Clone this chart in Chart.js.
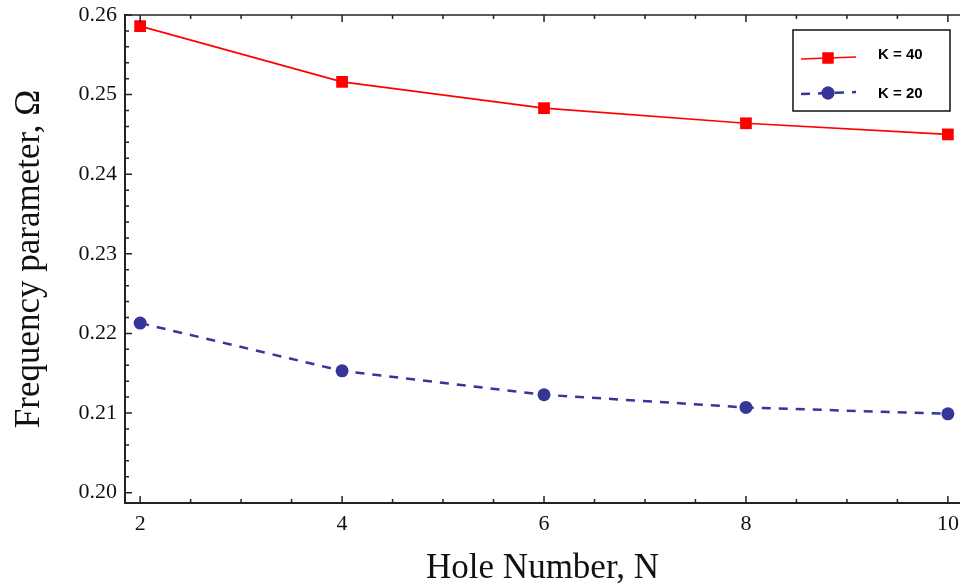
<!DOCTYPE html>
<html>
<head>
<meta charset="utf-8">
<script src="https://cdn.jsdelivr.net/npm/chart.js@4.4.1/dist/chart.umd.min.js"></script>
<style>
  html,body{margin:0;padding:0;background:#fff}
  #wrap{width:960px;height:587px;position:relative;overflow:hidden}
</style>
</head>
<body>
<div id="wrap"><canvas id="chart" width="960" height="587"></canvas></div>
<script>
// values (frequency parameter vs hole number)
const holeNumbers = [2, 4, 6, 8, 10];
const omegaK40 = [0.2586, 0.2516, 0.2483, 0.2464, 0.2450];
const omegaK20 = [0.2213, 0.2153, 0.2123, 0.2107, 0.2099];
const seriesLabels = ["K = 40", "K = 20"];
const xTicks = [2, 4, 6, 8, 10];
const yTicks = [0.20, 0.21, 0.22, 0.23, 0.24, 0.25, 0.26];
const xMinorStep = 0.5, yMinorStep = 0.002;

const SERIF = '"Liberation Serif", "Times New Roman", serif';
const RED = "#ff0000", BLUE = "#35359a";

function pts(ys){ return holeNumbers.map((x,i)=>({ x, y: ys[i] })); }

// inward tick marks on left/bottom/top, like the original frame
const frameTicks = {
  id: "frameTicks",
  afterDraw(chart){
    const { ctx, chartArea: a, scales: { x, y } } = chart;
    ctx.save();
    ctx.strokeStyle = "#222";
    ctx.lineWidth = 1.5;
    // top frame line
    ctx.beginPath(); ctx.moveTo(a.left, a.top); ctx.lineTo(a.right, a.top); ctx.stroke();
    ctx.beginPath();
    for(let v = 2; v <= x.max + 1e-9; v += xMinorStep){
      const px = x.getPixelForValue(v);
      const len = xTicks.includes(Math.round(v*100)/100) ? 7 : 4;
      ctx.moveTo(px, a.bottom); ctx.lineTo(px, a.bottom - len);
      ctx.moveTo(px, a.top); ctx.lineTo(px, a.top + len);
    }
    for(let v = 0.20; v <= y.max + 1e-9; v += yMinorStep){
      const py = y.getPixelForValue(v);
      const major = Math.abs(Math.round(v*100) - v*100) < 1e-6;
      ctx.moveTo(a.left, py); ctx.lineTo(a.left + (major ? 7 : 4), py);
    }
    ctx.stroke();
    ctx.restore();
  }
};

// boxed legend with line + marker samples
const boxLegend = {
  id: "boxLegend",
  afterDraw(chart){
    const ctx = chart.ctx;
    const bx = 793, by = 30, bw = 157, bh = 81;
    const sampleY = [58, 93], textY = [55, 94];
    ctx.save();
    ctx.fillStyle = "#fff";
    ctx.fillRect(bx, by, bw, bh);
    ctx.strokeStyle = "#111"; ctx.lineWidth = 1.5;
    ctx.strokeRect(bx, by, bw, bh);
    chart.data.datasets.forEach((ds, i) => {
      const ly = sampleY[i];
      ctx.strokeStyle = ds.borderColor;
      ctx.lineWidth = ds.borderWidth;
      ctx.setLineDash(ds.borderDash || []);
      ctx.beginPath(); ctx.moveTo(bx + 8, ly + 1); ctx.lineTo(bx + 63, ly - 1); ctx.stroke();
      ctx.setLineDash([]);
      ctx.fillStyle = ds.pointBackgroundColor;
      Chart.helpers.drawPoint(ctx, { pointStyle: ds.pointStyle, radius: ds.legendRadius, borderWidth: 0, rotation: 0 }, bx + 35, ly);
      ctx.fill();
      ctx.fillStyle = "#000";
      ctx.font = 'bold 15px "Liberation Sans", Arial, sans-serif';
      ctx.textBaseline = "middle";
      ctx.fillText(ds.label, bx + 85, textY[i]);
    });
    ctx.restore();
  }
};

new Chart(document.getElementById("chart"), {
  type: "line",
  data: {
    datasets: [
      { label: seriesLabels[0], data: pts(omegaK40), borderColor: RED, backgroundColor: RED,
        borderWidth: 1.6, pointStyle: "rect", pointRadius: 8.3, legendRadius: 7.8, pointBackgroundColor: RED,
        pointBorderWidth: 0, tension: 0 },
      { label: seriesLabels[1], data: pts(omegaK20), borderColor: BLUE, backgroundColor: BLUE,
        borderWidth: 2.5, borderDash: [9, 8], pointStyle: "circle", pointRadius: 6.5, legendRadius: 6.5,
        pointBackgroundColor: BLUE, pointBorderWidth: 0, tension: 0 }
    ]
  },
  options: {
    responsive: false,
    devicePixelRatio: 1,
    animation: false,
    layout: { autoPadding: false, padding: { top: 15, right: 0, left: 0, bottom: 0 } },
    plugins: { legend: { display: false }, tooltip: { enabled: false } },
    scales: {
      x: {
        type: "linear", min: 1.85, max: 10.12,
        afterBuildTicks: s => { s.ticks = xTicks.map(v => ({ value: v })); },
        afterFit: s => { s.height = 84; s.paddingLeft = 0; s.paddingRight = 0; s.paddingTop = 0; s.paddingBottom = 0; },
        grid: { display: false, drawTicks: false },
        border: { display: true, color: "#222", width: 2 },
        ticks: { color: "#111", font: { family: SERIF, size: 22 }, padding: 8, maxRotation: 0, autoSkip: false },
        title: { display: true, text: "Hole Number, N", color: "#111",
                 font: { family: SERIF, size: 35, lineHeight: 1.2 }, padding: { top: 0, bottom: -3 } }
      },
      y: {
        type: "linear", min: 0.1987, max: 0.26,
        afterBuildTicks: s => { s.ticks = yTicks.map(v => ({ value: v })); },
        afterFit: s => { s.width = 125; s.paddingLeft = 0; s.paddingRight = 0; s.paddingTop = 0; s.paddingBottom = 0; },
        grid: { display: false, drawTicks: false },
        border: { display: true, color: "#222", width: 2 },
        ticks: { color: "#111", font: { family: SERIF, size: 22 }, padding: 8,
                 callback: v => Number(v).toFixed(2) },
        title: { display: true, text: "Frequency parameter, \u03A9", color: "#111",
                 font: { family: SERIF, size: 35, lineHeight: 1.2 }, padding: { top: 9, bottom: 0 } }
      }
    }
  },
  plugins: [frameTicks, boxLegend]
});
</script>
</body>
</html>
